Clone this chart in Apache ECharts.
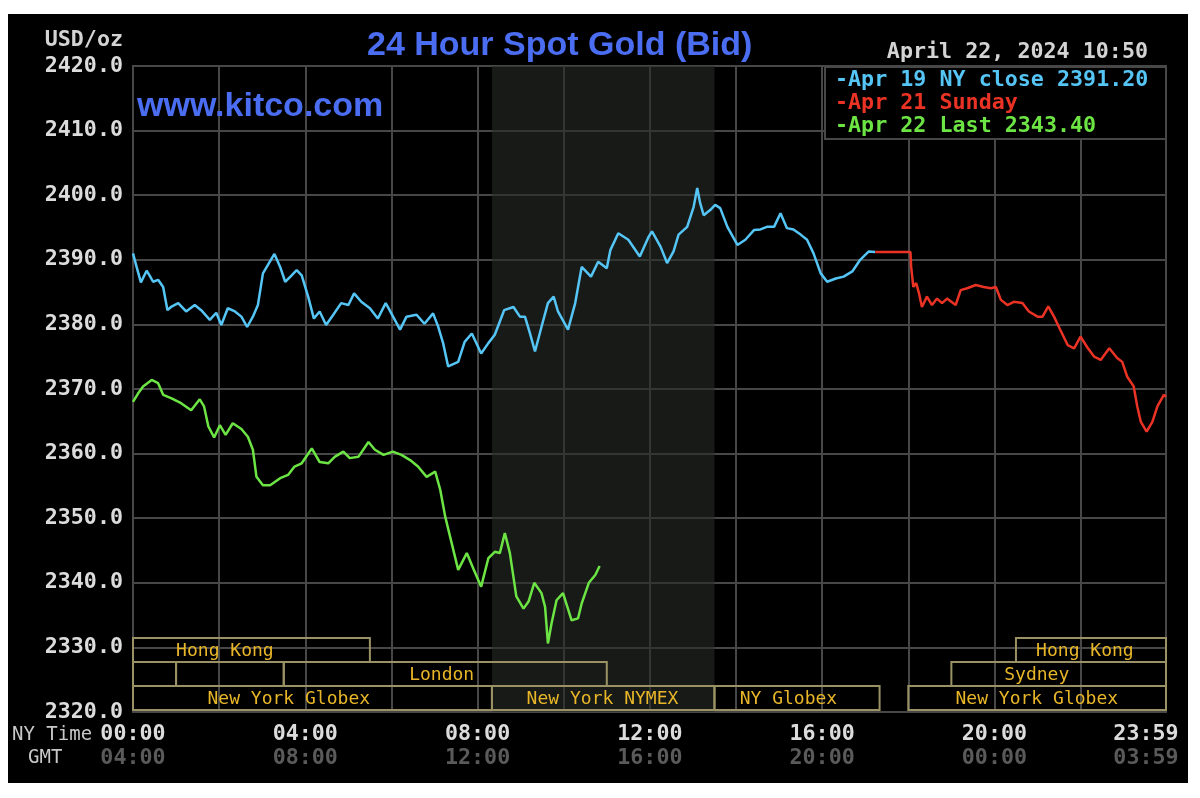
<!DOCTYPE html>
<html>
<head>
<meta charset="utf-8">
<script src="https://cdn.jsdelivr.net/npm/echarts@6/dist/echarts.min.js"></script>
<style>
html,body{margin:0;padding:0;background:#fff;}
#bg{position:absolute;left:8px;top:14px;width:1180px;height:769px;background:#000;}
#c{position:absolute;left:0;top:0;width:1200px;height:798px;}
</style>
</head>
<body>
<div id="bg"></div>
<div id="c"></div>
<script>
// ---------- texts ----------
const chartTitle = '24 Hour Spot Gold (Bid)';
const siteText = 'www.kitco.com';
const unitText = 'USD/oz';
const stampText = 'April 22, 2024 10:50';
const nyRowName = 'NY Time';
const gmtRowName = 'GMT';

// ---------- axes ----------
const yMin = 2320, yMax = 2420, yStep = 10;
const xMin = 0, xMax = 1439;           // minutes of the NY day
const gridStep = 120;                   // vertical grid every 2 h
const xTickMinutes = [0, 240, 480, 720, 960, 1200, 1439];
const nyTimeLabels = ['00:00', '04:00', '08:00', '12:00', '16:00', '20:00', '23:59'];
const gmtLabels    = ['04:00', '08:00', '12:00', '16:00', '20:00', '00:00', '03:59'];

// ---------- series ----------
const apr19Name = 'Apr 19 NY close 2391.20';
const apr19Minutes = [0,5,11,19,23,28,35,42,48,53,63,74,86,95,107,116,123,132,142,151,159,167,174,181,197,205,212,221,228,235,244,252,260,269,279,290,300,308,318,330,341,352,355,372,381,395,406,418,425,432,439,453,462,472,485,495,504,517,530,539,546,553,560,569,578,586,592,606,616,625,638,648,660,665,676,690,706,718,723,735,744,753,760,772,781,786,790,795,804,811,818,828,842,853,865,874,883,893,902,911,920,930,939,948,958,967,979,990,1002,1013,1025,1034];
const apr19Values = [2391.0,2388.9,2386.5,2388.3,2387.6,2386.6,2386.9,2385.8,2382.2,2382.7,2383.3,2382.0,2383.0,2382.2,2380.7,2381.8,2379.9,2382.5,2382.0,2381.2,2379.6,2381.2,2383.0,2387.9,2390.9,2388.9,2386.6,2387.6,2388.4,2387.6,2384.3,2380.9,2382.0,2379.9,2381.5,2383.3,2383.0,2384.8,2383.5,2382.5,2380.9,2383.3,2382.7,2379.2,2381.2,2381.5,2380.1,2381.7,2379.7,2377.1,2373.5,2374.2,2377.3,2378.6,2375.5,2377.1,2378.4,2382.2,2382.7,2381.2,2381.2,2378.6,2375.8,2379.6,2383.3,2384.3,2382.0,2379.2,2383.3,2388.9,2387.4,2389.7,2388.7,2391.5,2394.1,2393.1,2390.5,2393.5,2394.4,2392.0,2389.5,2391.3,2393.9,2395.1,2398.2,2401.1,2398.8,2396.9,2397.7,2398.5,2398.0,2395.1,2392.3,2393.1,2394.6,2394.7,2395.1,2395.1,2397.2,2394.9,2394.7,2393.9,2393.1,2391.0,2387.9,2386.6,2387.1,2387.4,2388.2,2390.0,2391.3,2391.2];

const apr21Name = 'Apr 21 Sunday';
const apr21Minutes = [1034,1083,1084,1087,1091,1095,1099,1106,1113,1120,1127,1134,1146,1153,1162,1174,1185,1195,1202,1209,1218,1227,1239,1248,1260,1267,1275,1283,1292,1302,1311,1320,1329,1339,1348,1360,1371,1378,1385,1394,1399,1404,1412,1420,1427,1436,1439];
const apr21Values = [2391.2,2391.2,2388.9,2385.8,2386.4,2384.8,2382.7,2384.3,2383.0,2384.0,2383.3,2384.0,2383.0,2385.3,2385.6,2386.1,2385.8,2385.6,2385.8,2383.8,2383.0,2383.5,2383.3,2382.0,2381.2,2381.2,2382.8,2381.2,2379.1,2376.8,2376.3,2378.1,2376.5,2375.0,2374.5,2376.3,2374.8,2374.2,2371.9,2370.4,2367.3,2364.9,2363.4,2364.9,2367.3,2369.1,2368.8];

const apr22Name = 'Apr 22 Last 2343.40';
const apr22Minutes = [0,7,14,26,35,42,53,67,81,93,99,105,113,121,129,139,151,160,167,172,181,191,205,216,225,235,249,260,272,281,293,302,314,328,337,349,362,374,386,397,409,421,428,435,444,453,465,474,485,495,504,511,518,525,534,544,551,559,569,574,578,583,590,599,611,620,625,635,644,650];
const apr22Values = [2368.0,2369.3,2370.4,2371.4,2370.9,2369.1,2368.6,2367.8,2366.7,2368.4,2367.3,2364.2,2362.5,2364.4,2362.9,2364.7,2363.8,2362.6,2360.6,2356.4,2355.1,2355.1,2356.2,2356.7,2358.0,2358.5,2360.8,2358.7,2358.5,2359.5,2360.3,2359.3,2359.5,2361.8,2360.6,2359.8,2360.3,2359.8,2359.0,2358.0,2356.4,2357.2,2354.4,2350.2,2346.1,2342.0,2344.6,2342.2,2339.4,2343.8,2344.8,2344.6,2347.7,2344.6,2337.9,2336.0,2337.1,2340.0,2338.4,2336.3,2330.6,2333.7,2337.3,2338.4,2334.2,2334.5,2336.8,2340.0,2341.2,2342.6];

// ---------- trading sessions (NY minutes) ----------
const sessionNames   = ['Hong Kong', '', '', 'London', 'New York Globex', 'New York NYMEX', 'NY Globex', 'Hong Kong', 'Sydney', 'New York Globex'];
const sessionStart   = [0,    0,  60,  210, 0,   500, 810,  1230, 1140, 1080];
const sessionEnd     = [330,  60, 210, 660, 500, 810, 1040, 1439, 1439, 1439];
const sessionRow     = [0,    1,  1,   1,   2,   2,   2,    0,    1,    2];
const sessionLabelAt = [128,  30, 135, 430, 217, 654, 913,  1326, 1259, 1259];
const nymexShade = [500, 810];

// ---------- colours ----------
const cBlue = '#55c5f5', cRed = '#ea3324', cGreen = '#6ce444';
const mono = '"DejaVu Sans Mono", "Liberation Mono", monospace';
const monoSize = 21.7;

const zip = (xs, ys) => xs.map((x, i) => [x, ys[i]]);

const chart = echarts.init(document.getElementById('c'), null, {renderer: 'canvas'});

const xLabelCommon = {
  fontFamily: mono, fontWeight: 'bold', fontSize: monoSize
};

chart.setOption({
  backgroundColor: 'transparent',
  animation: false,
  title: {
    text: chartTitle,
    left: 362, top: 24,
    textStyle: {color: '#4a6df2', fontFamily: '"Liberation Sans", Arial, sans-serif', fontWeight: 'bold', fontSize: 34}
  },
  legend: {
    orient: 'vertical', left: 830, top: 69, z: 60,
    itemGap: 0, itemWidth: 0, itemHeight: 0, icon: 'none', padding: 0,
    selectedMode: false,
    formatter: n => '-' + n,
    textStyle: {fontFamily: mono, fontWeight: 'bold', fontSize: monoSize, lineHeight: 23},
    data: [
      {name: apr19Name, textStyle: {color: cBlue}},
      {name: apr21Name, textStyle: {color: cRed}},
      {name: apr22Name, textStyle: {color: cGreen}}
    ]
  },
  grid: {left: 133, right: 34, top: 66, bottom: 86, show: true, borderColor: '#474747', borderWidth: 2, backgroundColor: 'transparent'},
  xAxis: [
    {type: 'value', min: xMin, max: xMax, interval: gridStep,
     axisLine: {show: false}, axisTick: {show: false}, axisLabel: {show: false},
     splitLine: {show: true, lineStyle: {color: '#474747', width: 2}}},
    {type: 'value', min: xMin, max: xMax, position: 'bottom',
     axisLine: {show: false}, axisTick: {show: false}, splitLine: {show: false},
     axisLabel: Object.assign({}, xLabelCommon, {
       customValues: xTickMinutes, margin: 11, color: '#dcdcdc',
       formatter: v => { const i = xTickMinutes.indexOf(v); return i === xTickMinutes.length - 1 ? '{end|' + nyTimeLabels[i] + '}' : nyTimeLabels[i]; },
       rich: {end: Object.assign({}, xLabelCommon, {color: '#dcdcdc', padding: [0, 40, 0, 0]})}
     })},
    {type: 'value', min: xMin, max: xMax, position: 'bottom', offset: 24,
     axisLine: {show: false}, axisTick: {show: false}, splitLine: {show: false},
     axisLabel: Object.assign({}, xLabelCommon, {
       customValues: xTickMinutes, margin: 11, color: '#5a5a5a',
       formatter: v => { const i = xTickMinutes.indexOf(v); return i === xTickMinutes.length - 1 ? '{end|' + gmtLabels[i] + '}' : gmtLabels[i]; },
       rich: {end: Object.assign({}, xLabelCommon, {color: '#5a5a5a', padding: [0, 40, 0, 0]})}
     })}
  ],
  yAxis: {
    type: 'value', min: yMin, max: yMax, interval: yStep,
    axisLine: {show: false}, axisTick: {show: false},
    splitLine: {show: true, lineStyle: {color: '#474747', width: 2}},
    axisLabel: {color: '#dcdcdc', fontFamily: mono, fontWeight: 'bold', fontSize: monoSize, margin: 10,
                formatter: v => v.toFixed(1)}
  },
  graphic: [
    {type: 'rect', z: 50, shape: {x: 825, y: 67, width: 341, height: 72},
     style: {fill: '#000', stroke: '#474747', lineWidth: 2}},
    {type: 'text', z: 50, x: 123, y: 40,
     style: {text: unitText, fill: '#d4d4d4', font: 'bold ' + monoSize + 'px ' + mono, textAlign: 'right', textVerticalAlign: 'middle'}},
    {type: 'text', z: 50, x: 1148, y: 52,
     style: {text: stampText, fill: '#d4d4d4', font: 'bold ' + monoSize + 'px ' + mono, textAlign: 'right', textVerticalAlign: 'middle'}},
    {type: 'text', z: 50, x: 137, y: 107,
     style: {text: siteText, fill: '#4a6df2', font: 'bold 34px "Liberation Sans", Arial, sans-serif', textAlign: 'left', textVerticalAlign: 'middle'}},
    {type: 'text', z: 50, x: 12, y: 735,
     style: {text: nyRowName, fill: '#c8c8c8', font: '19px ' + mono, textAlign: 'left', textVerticalAlign: 'middle'}},
    {type: 'text', z: 50, x: 28, y: 758,
     style: {text: gmtRowName, fill: '#c8c8c8', font: '19px ' + mono, textAlign: 'left', textVerticalAlign: 'middle'}}
  ],
  series: [
    {
      name: 'sessions', type: 'custom', xAxisIndex: 0, yAxisIndex: 0, z: 3, silent: true,
      encode: {x: [0, 1]},
      data: sessionNames.map((n, i) => [sessionStart[i], sessionEnd[i], sessionRow[i], sessionLabelAt[i]]),
      renderItem: (params, api) => {
        const x0 = api.coord([api.value(0), yMin])[0];
        const x1 = api.coord([api.value(1), yMin])[0];
        const yb = api.coord([0, yMin])[1];
        const rowH = 24;
        const top = yb - 2 - (3 - api.value(2)) * rowH;
        const lx = api.coord([api.value(3), yMin])[0];
        const name = sessionNames[params.dataIndex];
        const children = [{type: 'rect', shape: {x: x0, y: top, width: x1 - x0, height: rowH},
                           style: {fill: 'none', stroke: '#9a9264', lineWidth: 2}}];
        if (name) children.push({type: 'text', x: lx, y: top + rowH / 2 + 1,
          style: {text: name, fill: '#e8b628', font: '18px ' + mono, textAlign: 'center', textVerticalAlign: 'middle'}});
        return {type: 'group', children};
      }
    },
    {
      name: apr19Name, type: 'line', xAxisIndex: 0, showSymbol: false, z: 5,
      lineStyle: {color: cBlue, width: 2.5}, itemStyle: {color: cBlue},
      data: zip(apr19Minutes, apr19Values),
      markArea: {silent: true, itemStyle: {color: 'rgba(40,44,40,0.6)'},
                 data: [[{xAxis: nymexShade[0]}, {xAxis: nymexShade[1]}]]}
    },
    {
      name: apr21Name, type: 'line', xAxisIndex: 0, showSymbol: false, z: 5,
      lineStyle: {color: cRed, width: 2.5}, itemStyle: {color: cRed},
      data: zip(apr21Minutes, apr21Values)
    },
    {
      name: apr22Name, type: 'line', xAxisIndex: 0, showSymbol: false, z: 5,
      lineStyle: {color: cGreen, width: 2.5}, itemStyle: {color: cGreen},
      data: zip(apr22Minutes, apr22Values)
    }
  ]
});
</script>
</body>
</html>
